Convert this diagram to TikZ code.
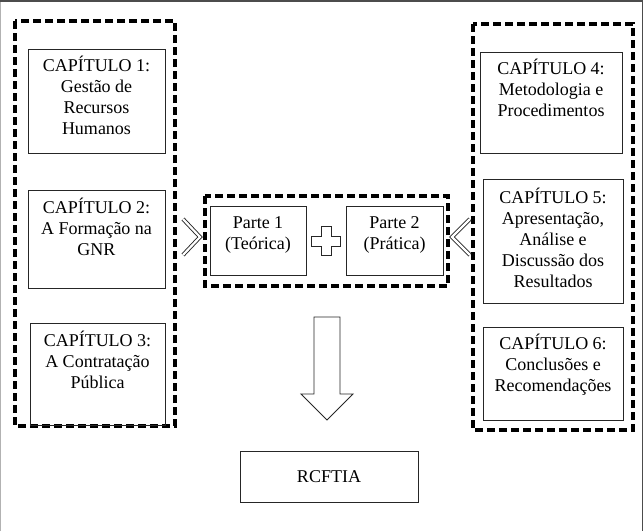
\documentclass[tikz,border=0pt]{standalone}
\usepackage{fontspec}
\setmainfont{Liberation Serif}
\begin{document}
\begin{tikzpicture}[x=1pt,y=-1pt,
  box/.style={draw=black!85, line width=1pt, inner sep=0pt},
  grp/.style={draw=black, line width=3.2pt, dash pattern=on 8pt off 4pt},
  txt/.style={anchor=north, inner sep=0pt, align=center, font=\fontsize{18}{21}\selectfont},
  shapeline/.style={draw=black!85, line width=0.9pt, line join=miter}]
\useasboundingbox (0,0) rectangle (643,531);
% frame
\draw[gray!60, line width=1pt] (0.5,531) -- (0.5,0.5);
\draw[black!70, line width=1.5pt] (0,0.75) -- (642.25,0.75) -- (642.25,531);
% dashed groups
\draw[grp] (15,21) rectangle (175,426);
\draw[grp] (473,24) rectangle (633,430);
\draw[grp] (205,196) rectangle (448,286);
% boxes
\node[box, minimum width=137, minimum height=104] (c1) at (96.5,101) {};
\node[box, minimum width=137, minimum height=98] (c2) at (96.5,239) {};
\node[box, minimum width=135, minimum height=102] (c3) at (97.5,374) {};
\node[box, minimum width=142, minimum height=101] (c4) at (551,102.5) {};
\node[box, minimum width=140, minimum height=124] (c5) at (553,241) {};
\node[box, minimum width=140, minimum height=93] (c6) at (553,373.5) {};
\node[box, minimum width=96, minimum height=69] (p1) at (258,240.5) {};
\node[box, minimum width=97, minimum height=69] (p2) at (394.5,240.5) {};
\node[box, minimum width=178, minimum height=51] (r) at (329,476.5) {};
% texts
\node[txt] (t1) at ([yshift=-7]c1.north) {\strut CAPÍTULO 1:\\Gestão de\\Recursos\\Humanos};
\node[txt] (t2) at ([yshift=-8]c2.north) {\strut CAPÍTULO 2:\\A Formação na\\GNR};
\node[txt] (t3) at ([yshift=-8]c3.north) {\strut CAPÍTULO 3:\\A Contratação\\Pública};
\node[txt] (t4) at ([yshift=-7]c4.north) {\strut CAPÍTULO 4:\\Metodologia e\\Procedimentos};
\node[txt] (t5) at ([yshift=-9]c5.north) {\strut CAPÍTULO 5:\\Apresentação,\\Análise e\\Discussão dos\\Resultados};
\node[txt] (t6) at ([yshift=-7]c6.north) {\strut CAPÍTULO 6:\\Conclusões e\\Recomendações};
\node[txt] (tp1) at ([yshift=-8]p1.north) {\strut Parte 1\\(Teórica)};
\node[txt] (tp2) at ([yshift=-8]p2.north) {\strut Parte 2\\(Prática)};
\node[anchor=base, inner sep=0pt, font=\fontsize{18}{21}\selectfont] (tr) at ([yshift=-6]r.center) {RCFTIA};
% chevrons
\draw[shapeline, double=white, double distance=2.2pt] (183,219) -- (200,237) -- (183,255);
\draw[shapeline, double=white, double distance=2.2pt] (470,219) -- (452,237) -- (470,255);
% plus
\draw[shapeline] (321,226.5) -- (331,226.5) -- (331,236) -- (340.5,236) -- (340.5,246) -- (331,246) -- (331,255.5) -- (321,255.5) -- (321,246) -- (311.5,246) -- (311.5,236) -- (321,236) -- cycle;
% down arrow
\draw[shapeline] (314,317) -- (340,317) -- (340,394) -- (353,394) -- (327,420) -- (301,394) -- (314,394) -- cycle;
\end{tikzpicture}
\end{document}
